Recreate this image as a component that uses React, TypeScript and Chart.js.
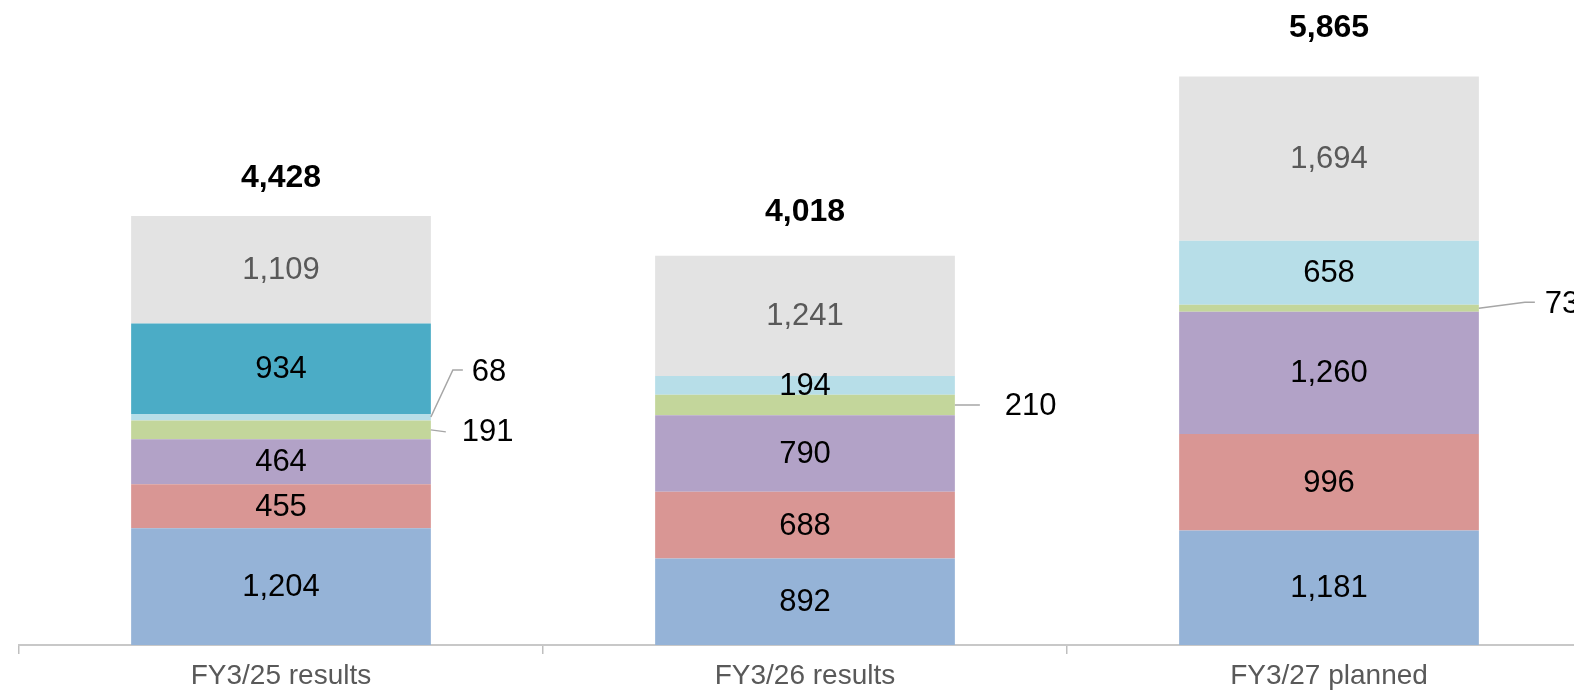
import React, { useEffect, useRef } from "react";
import { Chart, registerables } from "chart.js";

Chart.register(...registerables);

const categories = ["FY3/25 results", "FY3/26 results", "FY3/27 planned"];
const seriesBlue = [1204, 892, 1181];
const seriesRed = [455, 688, 996];
const seriesPurple = [464, 790, 1260];
const seriesGreen = [191, 210, 73];
const seriesLightBlue = [68, 194, 658];
const seriesTeal = [934, 0, 0];
const seriesGray = [1109, 1241, 1694];
const totals = [4428, 4018, 5865];

const FONT = "'Liberation Sans', Arial, sans-serif";

// segments labelled via callouts: dataset index, bar index, polyline offsets, text offset
const callouts = [
  { ds: 4, idx: 0, pts: [[22, -47], [32, -47]], text: [41, -45] },
  { ds: 3, idx: 0, pts: [[15, 2]], text: [31, 3] },
  { ds: 3, idx: 1, pts: [[25, 0]], text: [50, 1] },
  { ds: 3, idx: 2, pts: [[46, -6], [56, -6]], text: [66, -4] },
];
const totalOffsets = [38, 43, 48];

export default function App() {
  const ref = useRef<HTMLCanvasElement | null>(null);
  useEffect(() => {
    if (!ref.current) return;
    const labelPlugin = {
      id: "labels",
      afterDatasetsDraw(chart: any) {
        const ctx = chart.ctx;
        ctx.save();
        ctx.textAlign = "center";
        ctx.textBaseline = "middle";
        chart.data.datasets.forEach((ds: any, di: number) => {
          const meta = chart.getDatasetMeta(di);
          meta.data.forEach((el: any, i: number) => {
            const v = ds.data[i];
            if (!v) return;
            if (callouts.some((c) => c.ds === di && c.idx === i)) return;
            ctx.font = `31px ${FONT}`;
            ctx.fillStyle = di === 6 ? "#595959" : "#000000";
            ctx.fillText(v.toLocaleString("en-US"), el.x, (el.y + el.base) / 2 + 1);
          });
        });
        // callouts
        callouts.forEach((c) => {
          const el: any = chart.getDatasetMeta(c.ds).data[c.idx];
          const x0 = el.x + el.width / 2;
          const y0 = (el.y + el.base) / 2;
          const ys = c.ds === 4 && c.idx === 0 ? el.y + 3 : y0;
          ctx.strokeStyle = "#A6A6A6";
          ctx.lineWidth = 1.5;
          ctx.beginPath();
          ctx.moveTo(x0, ys);
          c.pts.forEach((p) => ctx.lineTo(x0 + p[0], ys + p[1]));
          ctx.stroke();
          ctx.font = `31px ${FONT}`;
          ctx.fillStyle = "#000000";
          ctx.textAlign = "left";
          ctx.fillText(
            String(chart.data.datasets[c.ds].data[c.idx]),
            x0 + c.text[0],
            ys + c.text[1]
          );
        });
        // totals
        ctx.textAlign = "center";
        ctx.font = `bold 32px ${FONT}`;
        ctx.fillStyle = "#000000";
        const topMeta = chart.getDatasetMeta(6);
        totals.forEach((t, i) => {
          const el: any = topMeta.data[i];
          ctx.fillText(t.toLocaleString("en-US"), el.x, el.y - totalOffsets[i]);
        });
        ctx.restore();
      },
    };
    const mk = (label: string, data: number[], color: string) => ({
      label,
      data,
      backgroundColor: color,
      borderWidth: 0,
      barPercentage: 0.572,
      categoryPercentage: 1,
    });
    const chart = new Chart(ref.current, {
      type: "bar",
      data: {
        labels: categories,
        datasets: [
          mk("Blue", seriesBlue, "#95B3D7"),
          mk("Red", seriesRed, "#D99694"),
          mk("Purple", seriesPurple, "#B2A2C7"),
          mk("Green", seriesGreen, "#C3D69B"),
          mk("Light blue", seriesLightBlue, "#B7DEE8"),
          mk("Teal", seriesTeal, "#4BACC6"),
          mk("Gray", seriesGray, "#E3E3E3"),
        ],
      },
      options: {
        responsive: false,
        animation: false,
        devicePixelRatio: 1,
        layout: { padding: { left: 19, right: 19, top: 5, bottom: 0 } },
        plugins: { legend: { display: false }, tooltip: { enabled: false } },
        scales: {
          x: {
            stacked: true,
            grid: {
              offset: true,
              drawOnChartArea: false,
              tickLength: 9,
              color: "#BFBFBF",
              lineWidth: 1.5,
            },
            border: { color: "#C8C8C8", width: 2 },
            ticks: {
              font: { family: FONT, size: 28 },
              color: "#595959",
              padding: 5,
              maxRotation: 0,
            },
            afterFit: (s: any) => {
              s.height = 46;
            },
          },
          y: { stacked: true, display: false, min: 0, max: 6600 },
        },
      },
      plugins: [labelPlugin],
    });
    return () => chart.destroy();
  }, []);
  return (
    <div
      style={{
        position: "absolute",
        left: 0,
        top: 0,
        width: 1574,
        height: 691,
        overflow: "hidden",
        background: "#fff",
      }}
    >
      <canvas ref={ref} width={1610} height={691} style={{ display: "block" }} />
    </div>
  );
}
